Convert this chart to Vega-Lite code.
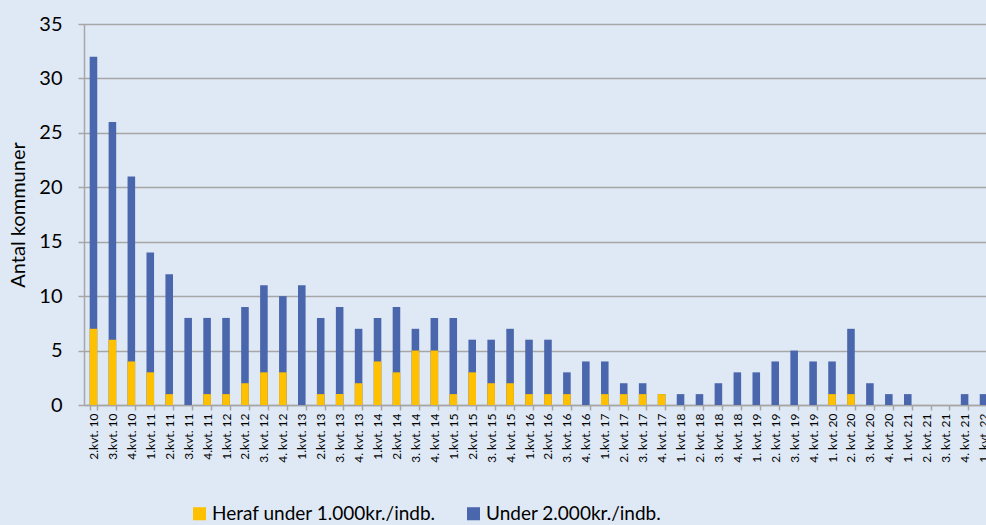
{
  "$schema": "https://vega.github.io/schema/vega-lite/v6.json",
  "width": 909,
  "height": 381,
  "autosize": {"type": "none"},
  "padding": {"left": 84, "top": 24, "right": 0, "bottom": 120},
  "background": "#DFE9F5",
  "config": {"view": {"stroke": null}, "font": "Lato"},
  "data": {"values": [
    {"kvt": "2.kvt. 10", "under": 32, "heraf": 7},
    {"kvt": "3.kvt. 10", "under": 26, "heraf": 6},
    {"kvt": "4.kvt. 10", "under": 21, "heraf": 4},
    {"kvt": "1.kvt. 11", "under": 14, "heraf": 3},
    {"kvt": "2.kvt. 11", "under": 12, "heraf": 1},
    {"kvt": "3.kvt. 11", "under": 8, "heraf": 0},
    {"kvt": "4.kvt. 11", "under": 8, "heraf": 1},
    {"kvt": "1.kvt. 12", "under": 8, "heraf": 1},
    {"kvt": "2.kvt. 12", "under": 9, "heraf": 2},
    {"kvt": "3. kvt. 12", "under": 11, "heraf": 3},
    {"kvt": "4. kvt. 12", "under": 10, "heraf": 3},
    {"kvt": "1.kvt. 13", "under": 11, "heraf": 0},
    {"kvt": "2.kvt. 13", "under": 8, "heraf": 1},
    {"kvt": "3. kvt. 13", "under": 9, "heraf": 1},
    {"kvt": "4. kvt. 13", "under": 7, "heraf": 2},
    {"kvt": "1.kvt. 14", "under": 8, "heraf": 4},
    {"kvt": "2.kvt. 14", "under": 9, "heraf": 3},
    {"kvt": "3. kvt. 14", "under": 7, "heraf": 5},
    {"kvt": "4. kvt. 14", "under": 8, "heraf": 5},
    {"kvt": "1.kvt. 15", "under": 8, "heraf": 1},
    {"kvt": "2.kvt. 15", "under": 6, "heraf": 3},
    {"kvt": "3. kvt. 15", "under": 6, "heraf": 2},
    {"kvt": "4. kvt. 15", "under": 7, "heraf": 2},
    {"kvt": "1.kvt. 16", "under": 6, "heraf": 1},
    {"kvt": "2.kvt. 16", "under": 6, "heraf": 1},
    {"kvt": "3. kvt. 16", "under": 3, "heraf": 1},
    {"kvt": "4. kvt. 16", "under": 4, "heraf": 0},
    {"kvt": "1.kvt. 17", "under": 4, "heraf": 1},
    {"kvt": "2. kvt. 17", "under": 2, "heraf": 1},
    {"kvt": "3. kvt. 17", "under": 2, "heraf": 1},
    {"kvt": "4. kvt. 17", "under": 1, "heraf": 1},
    {"kvt": "1. kvt. 18", "under": 1, "heraf": 0},
    {"kvt": "2. kvt. 18", "under": 1, "heraf": 0},
    {"kvt": "3. kvt. 18", "under": 2, "heraf": 0},
    {"kvt": "4. kvt. 18", "under": 3, "heraf": 0},
    {"kvt": "1. kvt. 19", "under": 3, "heraf": 0},
    {"kvt": "2. kvt. 19", "under": 4, "heraf": 0},
    {"kvt": "3. kvt. 19", "under": 5, "heraf": 0},
    {"kvt": "4. kvt. 19", "under": 4, "heraf": 0},
    {"kvt": "1. kvt. 20", "under": 4, "heraf": 1},
    {"kvt": "2. kvt. 20", "under": 7, "heraf": 1},
    {"kvt": "3. kvt. 20", "under": 2, "heraf": 0},
    {"kvt": "4. kvt. 20", "under": 1, "heraf": 0},
    {"kvt": "1. kvt. 21", "under": 1, "heraf": 0},
    {"kvt": "2. kvt. 21", "under": 0, "heraf": 0},
    {"kvt": "3. kvt. 21", "under": 0, "heraf": 0},
    {"kvt": "4. kvt. 21", "under": 1, "heraf": 0},
    {"kvt": "1. kvt. 22", "under": 1, "heraf": 0}
  ]},
  "transform": [{"fold": ["heraf", "under"], "as": ["serie", "antal"]}],
  "mark": {"type": "bar"},
  "encoding": {
    "x": {
      "field": "kvt", "type": "nominal", "sort": null,
      "scale": {"paddingInner": 0.6, "paddingOuter": 0.3},
      "axis": {
        "title": null, "labelAngle": -90, "labelFontSize": 12, "labelColor": "#000000",
        "labelPadding": 3, "domainColor": "#A6A6A6", "domainWidth": 1.5,
        "tickColor": "#A6A6A6", "tickSize": 5, "tickWidth": 1.5, "tickBand": "extent",
        "labelOverlap": false
      }
    },
    "y": {
      "field": "antal", "type": "quantitative", "stack": null,
      "scale": {"domain": [0, 35], "nice": false},
      "axis": {
        "title": "Antal kommuner", "titleFontSize": 20, "titleFontWeight": "normal", "titleColor": "#000000",
        "titlePadding": 10,
        "values": [0, 5, 10, 15, 20, 25, 30, 35],
        "labelFontSize": 20, "labelColor": "#000000", "labelPadding": 16,
        "grid": true, "gridColor": "#A6A6A6", "gridWidth": 1.5,
        "domainColor": "#A6A6A6", "domainWidth": 1.5,
        "tickColor": "#A6A6A6", "tickSize": 6, "tickWidth": 1.5
      }
    },
    "color": {
      "field": "serie", "type": "nominal",
      "scale": {"domain": ["heraf", "under"], "range": ["#FFC000", "#4A66AC"]},
      "legend": {
        "title": null, "orient": "none", "direction": "horizontal",
        "legendX": 106, "legendY": 480,
        "labelExpr": "datum.value == 'heraf' ? 'Heraf under 1.000kr./indb.' : 'Under 2.000kr./indb.'",
        "labelFontSize": 19, "labelColor": "#000000", "labelLimit": 400,
        "symbolType": "square", "symbolSize": 170, "symbolStrokeWidth": 0,
        "symbolOpacity": 1, "columnPadding": 28, "labelOffset": 3
      }
    },
    "order": {"field": "serie", "sort": "descending"}
  }
}
